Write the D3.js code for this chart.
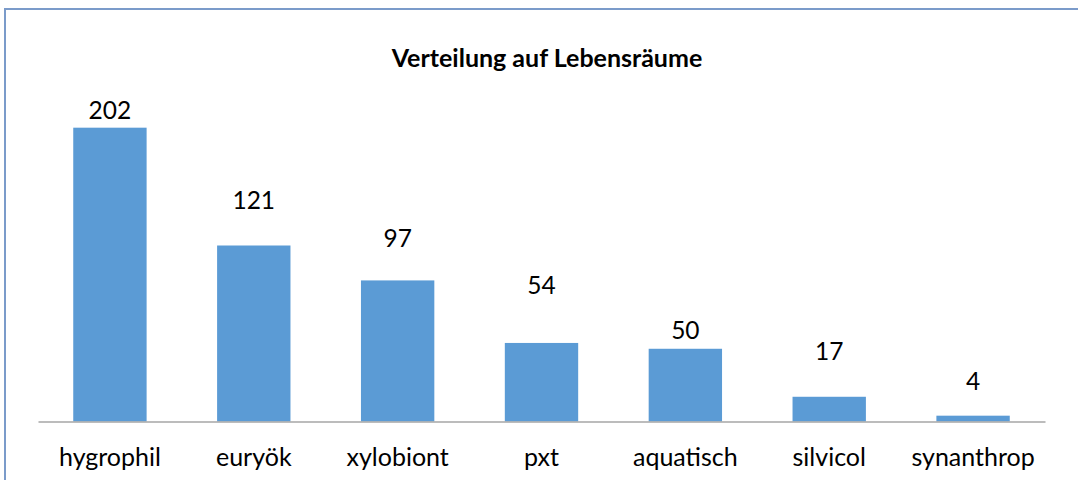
<!DOCTYPE html>
<meta charset="utf-8">
<script src="https://d3js.org/d3.v7.min.js"></script>
<style>
body { margin: 0; background: #fff; }
text { font-family: Lato, "Open Sans", sans-serif; fill: #000; }
.title { font-weight: bold; font-size: 25px; }
.val { font-size: 24.5px; }
.cat { font-size: 25px; }
.axis path { stroke: #a6a6a6; stroke-width: 1.5px; }
.axis line { display: none; }
</style>
<body></body>
<script>

// data
var categories = ['hygrophil', 'euryök', 'xylobiont', 'pxt', 'aquatisch', 'silvicol', 'synanthrop'];
var counts = [202, 121, 97, 54, 50, 17, 4];
// where each value label sits, in count units (labels were moved by hand in the original)
var labelAt = [208, 146, 120, 87.5, 57, 42, 22];

var width = 1078, height = 480;
var margin = {left: 38, right: 33, top: 101.5, bottom: 58.5};

var svg = d3.select('body').append('svg')
    .attr('width', width)
    .attr('height', height);

// frame
svg.append('rect')
    .attr('x', 5).attr('y', 9)
    .attr('width', width + 10).attr('height', height)
    .attr('fill', 'none')
    .attr('stroke', '#7b9bca')
    .attr('stroke-width', 2);

var xScale = d3.scaleBand()
    .domain(categories)
    .range([margin.left, width - margin.right])
    .paddingInner(0.49)
    .paddingOuter(0.245);

var yScale = d3.scaleLinear()
    .domain([0, 220])
    .range([height - margin.bottom, margin.top]);

var data = categories.map(function(c, i) { return {cat: c, count: counts[i], label: labelAt[i]}; });

svg.selectAll('.bar')
    .data(data).enter().append('rect')
    .attr('class', 'bar')
    .attr('x', function(d) { return xScale(d.cat); })
    .attr('width', xScale.bandwidth())
    .attr('y', function(d) { return yScale(d.count); })
    .attr('height', function(d) { return yScale(0) - yScale(d.count); })
    .attr('fill', '#5b9bd5');

var xAxis = d3.axisBottom(xScale).tickSize(0).tickSizeOuter(0);

var xAxisGroup = svg.append('g')
    .attr('class', 'axis')
    .attr('transform', 'translate(0,' + yScale(0) + ')')
    .call(xAxis);

xAxisGroup.selectAll('text')
    .attr('class', 'cat')
    .attr('dy', null)
    .attr('y', 44.5);

svg.selectAll('.val')
    .data(data).enter().append('text')
    .attr('class', 'val')
    .attr('text-anchor', 'middle')
    .attr('x', function(d) { return xScale(d.cat) + xScale.bandwidth() / 2; })
    .attr('y', function(d) { return yScale(d.label); })
    .text(function(d) { return d.count; });

svg.append('text')
    .attr('class', 'title')
    .attr('text-anchor', 'middle')
    .attr('x', 547)
    .attr('y', 67)
    .text('Verteilung auf Lebensräume');

</script>
